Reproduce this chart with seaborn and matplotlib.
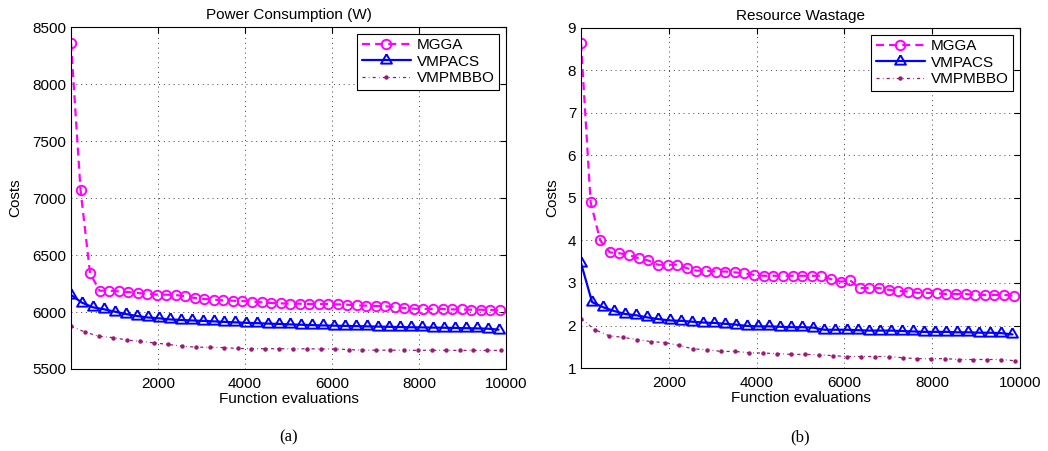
import matplotlib
matplotlib.use("Agg")
import matplotlib.pyplot as plt
import seaborn as sns

sns.set_theme(style="white")
plt.rcParams["font.family"] = ["Liberation Sans", "DejaVu Sans"]
plt.rcParams.update({
    "axes.edgecolor": "black",
    "axes.linewidth": 0.8,
    "xtick.color": "black",
    "ytick.color": "black",
    "text.color": "black",
    "axes.labelcolor": "black",
})

# Evaluation checkpoints for each algorithm
EVALS_MGGA = list(range(0, 9856, 219))      # 46 checkpoints
EVALS_VMPACS = list(range(0, 9829, 252))    # 40 checkpoints
EVALS_VMPMBBO = list(range(0, 9890, 319))   # 32 checkpoints

# (a) Power consumption (W)
power_mgga = [8360, 7070, 6340, 6187, 6187, 6181, 6175, 6167, 6158, 6152,
              6152, 6149, 6137, 6123, 6114, 6108, 6102, 6099, 6096, 6091,
              6085, 6079, 6076, 6073, 6073, 6070, 6070, 6070, 6067, 6064,
              6058, 6056, 6053, 6050, 6044, 6035, 6029, 6026, 6026, 6026,
              6023, 6023, 6020, 6020, 6018, 6015]
power_vmpacs = [6150, 6082, 6041, 6024, 6003, 5982, 5965, 5952, 5945, 5935,
                5930, 5926, 5922, 5918, 5913, 5909, 5905, 5902, 5898, 5895,
                5891, 5888, 5885, 5882, 5880, 5878, 5876, 5874, 5872, 5870,
                5868, 5866, 5865, 5863, 5862, 5860, 5858, 5856, 5854, 5845]
power_vmpmbbo = [5874, 5825, 5787, 5776, 5755, 5742, 5729, 5716, 5700, 5692,
                 5690, 5688, 5680, 5679, 5678, 5678, 5677, 5677, 5676, 5676,
                 5670, 5666, 5665, 5665, 5664, 5664, 5664, 5664, 5663, 5663,
                 5663, 5663]

# (b) Resource wastage
waste_mgga = [8.65, 4.90, 4.00, 3.72, 3.70, 3.66, 3.58, 3.53, 3.43, 3.43,
              3.43, 3.35, 3.29, 3.29, 3.27, 3.27, 3.25, 3.23, 3.19, 3.17,
              3.17, 3.17, 3.17, 3.17, 3.17, 3.17, 3.09, 3.03, 3.06, 2.88,
              2.88, 2.88, 2.84, 2.81, 2.80, 2.77, 2.77, 2.76, 2.74, 2.74,
              2.74, 2.72, 2.72, 2.72, 2.72, 2.70]
waste_vmpacs = [3.47, 2.55, 2.43, 2.34, 2.27, 2.24, 2.19, 2.15, 2.12, 2.11,
                2.09, 2.07, 2.06, 2.04, 2.02, 1.99, 1.98, 1.98, 1.97, 1.96,
                1.96, 1.95, 1.90, 1.90, 1.90, 1.89, 1.88, 1.88, 1.88, 1.87,
                1.86, 1.85, 1.85, 1.85, 1.84, 1.84, 1.83, 1.83, 1.82, 1.79]
waste_vmpmbbo = [2.16, 1.90, 1.76, 1.72, 1.67, 1.62, 1.60, 1.53, 1.45, 1.43,
                 1.39, 1.39, 1.36, 1.35, 1.34, 1.32, 1.32, 1.31, 1.29, 1.27,
                 1.27, 1.27, 1.27, 1.24, 1.22, 1.22, 1.22, 1.20, 1.20, 1.20,
                 1.20, 1.17]

X_TICKS = [2000, 4000, 6000, 8000, 10000]
POWER_TICKS = [5500, 6000, 6500, 7000, 7500, 8000, 8500]
WASTE_TICKS = [1, 2, 3, 4, 5, 6, 7, 8, 9]

MAGENTA = "#ff00ff"
BLUE = "#0000ff"
PURPLE = "#9b1a78"
# triangle centred on its centroid
TRIANGLE = [(0, 1), (-0.866, -0.5), (0.866, -0.5), (0, 1)]

W, H = 1048, 451
fig = plt.figure(figsize=(W / 100, H / 100), dpi=100)
ax_a = fig.add_axes([71 / W, 1 - 369 / H, 435 / W, 342 / H])
ax_b = fig.add_axes([581 / W, 1 - 368 / H, 439 / W, 340 / H])


def draw_panel(ax, mgga, vmpacs, vmpmbbo, title, yticks, label_x, height_px):
    sns.lineplot(x=EVALS_MGGA, y=mgga, ax=ax, color=MAGENTA,
                 linestyle=(0, (3.6, 2.3)), linewidth=1.6, marker="o",
                 markersize=6.8, markerfacecolor="none",
                 markeredgecolor=MAGENTA, markeredgewidth=1.4, label="MGGA")
    sns.lineplot(x=EVALS_VMPACS, y=vmpacs, ax=ax, color=BLUE,
                 linestyle="-", linewidth=1.6, marker=TRIANGLE,
                 markersize=9, markerfacecolor="none",
                 markeredgecolor=BLUE, markeredgewidth=1.4, label="VMPACS")
    sns.lineplot(x=EVALS_VMPMBBO, y=vmpmbbo, ax=ax, color=PURPLE,
                 linestyle=(0, (2.5, 2.5, 0.6, 2.5)), linewidth=0.9,
                 marker="o", markersize=3.2, markerfacecolor=PURPLE,
                 markeredgecolor=PURPLE, markeredgewidth=0, label="VMPMBBO")

    ax.set_xlim(0, 10000)
    ax.set_ylim(yticks[0], yticks[-1])
    ax.set_xticks(X_TICKS)
    ax.set_yticks(yticks)
    ax.set_xticklabels([str(v) for v in X_TICKS])
    ax.set_yticklabels([str(v) for v in yticks])
    ax.tick_params(direction="in", length=4, width=0.8, top=True, right=True,
                   labelsize=11)
    ax.tick_params(axis="x", pad=6)
    ax.tick_params(axis="y", pad=3.5)
    ax.grid(True, linestyle=(0, (1, 4)), color="0.25", linewidth=0.7)
    for side in ax.spines.values():
        side.set_visible(True)
        side.set_color("black")
        side.set_linewidth(0.8)

    ax.set_title(title, fontsize=11, pad=5.5)
    ax.set_xlabel("Function evaluations", fontsize=11)
    ax.set_ylabel("Costs", fontsize=11)
    ax.xaxis.set_label_coords(0.5, -23 / height_px)
    ax.yaxis.set_label_coords(label_x, 0.5)

    leg = ax.legend(loc="upper right", frameon=True, fancybox=False,
                    edgecolor="black", framealpha=1, fontsize=11,
                    handlelength=3.2, borderpad=0.3, labelspacing=0.15,
                    handletextpad=0.4, borderaxespad=0.45, numpoints=1)
    leg.get_frame().set_linewidth(0.8)


draw_panel(ax_a, power_mgga, power_vmpacs, power_vmpmbbo,
           "Power Consumption (W)", POWER_TICKS, -49 / 435, 342)
draw_panel(ax_b, waste_mgga, waste_vmpacs, waste_vmpmbbo,
           "Resource Wastage", WASTE_TICKS, -22 / 439, 340)

fig.text(289 / W, 1 - 437 / H, "(a)", ha="center", va="center",
         family="Liberation Serif", fontsize=12)
fig.text(800 / W, 1 - 437 / H, "(b)", ha="center", va="center",
         family="Liberation Serif", fontsize=12)

fig.savefig("out.png", dpi=100)
